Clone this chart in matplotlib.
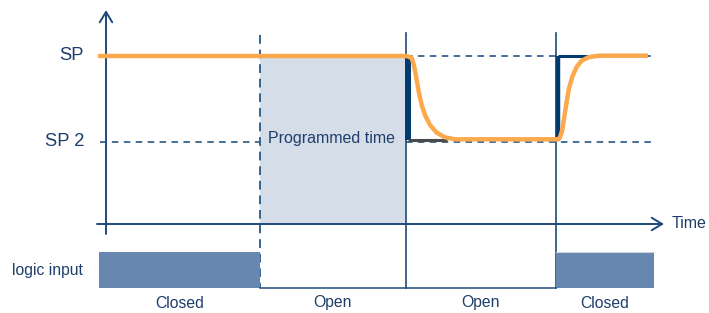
import matplotlib
matplotlib.use("Agg")
import matplotlib.pyplot as plt

# ---------------- data (schematic units: x = time, y = screen level) ----------------
level_labels = ["SP", "SP 2"]
level_y = [56, 142]            # SP, SP 2

time_axis_y = 224
y_axis_x = 106
switch_times = [260, 406, 556]  # logic input change, end of programmed time, input closed again

# response (orange) curve
resp_x = [98, 406, 408, 411.7, 414.3, 416.7, 419, 421.7, 425, 430, 436.7, 445, 455, 465,
          556, 558, 560, 562.3, 564.3, 566.7, 569, 572.3, 576.7, 581.7, 588.3, 598.3, 648]
resp_y = [56, 56, 56.5, 58, 66.7, 80, 93, 105, 115, 125, 132.7, 137.3, 139.3, 139.3,
          139.3, 139.3, 137.3, 130, 116.7, 101.7, 88.3, 76.7, 66.7, 60.7, 57.3, 55.7, 55.7]

# setpoint step (dark) segments
step_down_x = [408, 408]
step_down_y = [56, 140]
step_low_x = [408, 447]
step_low_y = [140, 140]
step_up_x = [558, 558]
step_up_y = [141, 56]
step_high_x = [558, 600]
step_high_y = [56, 56]

# logic input
logic_edges = [99, 260, 406, 556, 654]
logic_states = ["Closed", "Open", "Open", "Closed"]
logic_top = 252
logic_bottom = 288
label_y = 303

# ---------------- colours ----------------
navy = "#1f3d6b"
line_col = "#1e4b7a"
dash_col = "#35638f"
orange = "#fba94c"
shade = "#d5dde9"
bar_col = "#6787b0"
step_col = "#003a70"
grey = "#4a4a4a"

plt.rcParams['font.family'] = ['Liberation Sans', 'DejaVu Sans']

fig = plt.figure(figsize=(7.09, 3.13), dpi=100)
ax = fig.add_axes([0, 0, 1, 1])
ax.set_xlim(0, 709)
ax.set_ylim(313, 0)
ax.axis('off')

# programmed-time shading
ax.fill_between([switch_times[0], switch_times[1]], level_y[0], time_axis_y,
                color=shade, lw=0, zorder=1)

# dashed reference lines
dash = (0, (3.6, 3.0))
ax.plot([100, switch_times[0]], [level_y[1]] * 2, ls=dash, color=dash_col, lw=1.3, zorder=2)
ax.plot([switch_times[1], 655], [level_y[1]] * 2, ls=dash, color=dash_col, lw=1.3, zorder=2)
ax.plot([switch_times[1], 652], [level_y[0]] * 2, ls=dash, color=dash_col, lw=1.3, zorder=2)

# vertical event lines
ax.plot([switch_times[0]] * 2, [35, logic_bottom], ls=(0, (4.5, 3.0)), color=dash_col, lw=1.4, zorder=2)
ax.plot([switch_times[1]] * 2, [33, logic_bottom], color=line_col, lw=1.2, zorder=2)
ax.plot([switch_times[2]] * 2, [33, logic_bottom], color=line_col, lw=1.2, zorder=2)

# axes with open arrowheads
ax.annotate('', xy=(y_axis_x, 10), xytext=(y_axis_x, 234),
            arrowprops=dict(arrowstyle='->, head_length=0.75, head_width=0.45',
                            lw=1.4, color=line_col, shrinkA=0, shrinkB=0), zorder=3)
ax.annotate('', xy=(664, time_axis_y), xytext=(97, time_axis_y),
            arrowprops=dict(arrowstyle='->, head_length=0.75, head_width=0.45',
                            lw=1.4, color=line_col, shrinkA=0, shrinkB=0), zorder=3)

# setpoint step
ax.plot(step_down_x, step_down_y, color=step_col, lw=4.3, solid_capstyle='butt', zorder=4)
ax.plot(step_low_x, step_low_y, color=grey, lw=2.2, solid_capstyle='butt', zorder=4)
ax.plot(step_up_x, step_up_y, color=step_col, lw=3.2, solid_capstyle='butt', zorder=4)
ax.plot(step_high_x, step_high_y, color=step_col, lw=2.2, solid_capstyle='butt', zorder=4)

# response curve
ax.plot(resp_x, resp_y, color=orange, lw=3.2, solid_joinstyle='round',
        solid_capstyle='butt', zorder=5)

# logic input bars
for i, state in enumerate(logic_states):
    x0, x1 = logic_edges[i], logic_edges[i + 1]
    if state == "Closed":
        ax.fill_between([x0, x1], logic_top, logic_bottom, color=bar_col, lw=0, zorder=2)
    ax.text((x0 + x1) / 2, label_y, state, ha='center', va='center',
            fontsize=11.3, color=navy)
ax.plot([logic_edges[1], logic_edges[3]], [logic_bottom] * 2, color=line_col, lw=1.1, zorder=2)
ax.plot([logic_edges[3], logic_edges[4]], [logic_top] * 2, color="#c9d3e2", lw=0.8, zorder=3)

# texts
for lab, yv in zip(level_labels, level_y):
    ax.text(84, yv, lab, ha='right', va='center', fontsize=13.2, color=navy)
ax.text(332, 138, "Programmed time", ha='center', va='center', fontsize=11.5, color=navy)
ax.text(672, time_axis_y, "Time", ha='left', va='center', fontsize=11.5, color=navy)
ax.text(12, 270, "logic input", ha='left', va='center', fontsize=11.3, color=navy)

fig.savefig("out.png", dpi=100)
